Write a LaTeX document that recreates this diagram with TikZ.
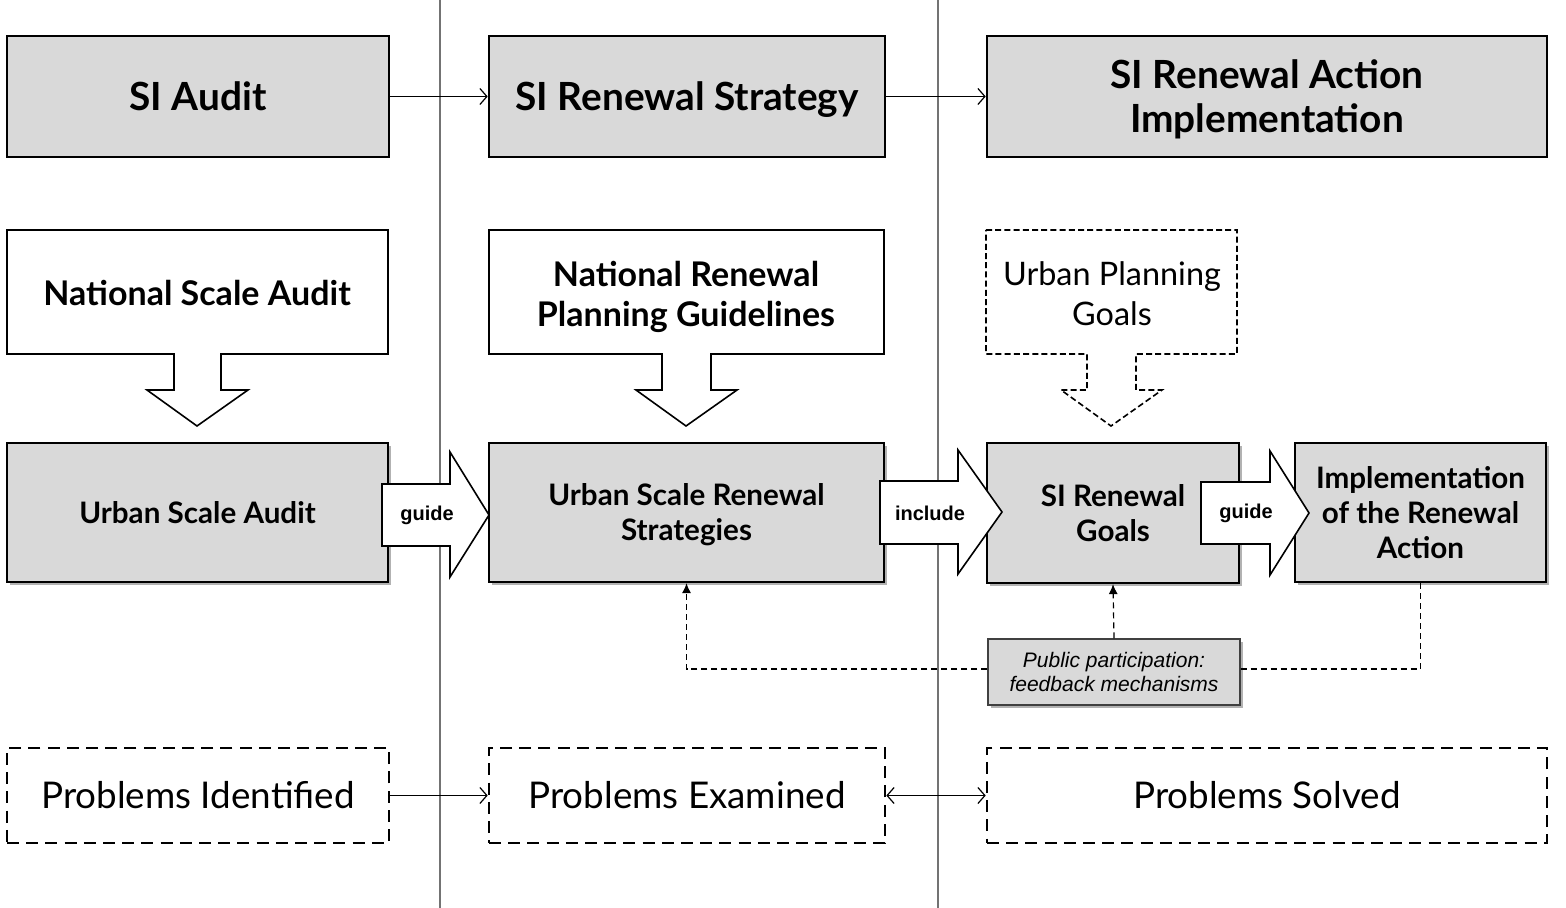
\documentclass[tikz,border=0pt]{standalone}
\usepackage{fontspec}
\setmainfont{Lato}
\newfontfamily\arialf{Liberation Sans}
\usetikzlibrary{arrows.meta,shadows}
\definecolor{boxgray}{HTML}{D9D9D9}
\tikzset{
  topbox/.style={draw, line width=1.3pt, fill=boxgray, inner sep=0pt, align=center,
    font=\fontsize{19.4}{22}\selectfont\bfseries},
  midbox/.style={draw, line width=1.1pt, fill=boxgray, inner sep=0pt, align=center,
    font=\fontsize{14.8}{17.5}\selectfont\bfseries,
    drop shadow={shadow xshift=1.6pt, shadow yshift=-1.6pt, fill=black, opacity=0.3}},
  probbox/.style={draw, line width=1.3pt, dash pattern=on 6pt off 3.6pt, fill=white,
    inner sep=0pt, align=center, font=\fontsize{18.4}{21}\selectfont},
  callout/.style={draw, line width=0.8pt, fill=white},
  callouttext/.style={align=center, inner sep=0pt, font=\fontsize{17}{20}\selectfont\bfseries},
  blockarrow/.style={draw, line width=0.8pt, fill=white},
  arrowtext/.style={inner sep=0pt, font=\arialf\fontsize{10}{11}\selectfont\bfseries},
  ppbox/.style={draw=black!75, line width=0.6pt, fill=boxgray, inner sep=0pt, align=center,
    font=\arialf\fontsize{10.5}{12.2}\selectfont\itshape,
    drop shadow={shadow xshift=1.6pt, shadow yshift=-1.6pt, fill=black, opacity=0.3}},
  conn/.style={line width=0.6pt, -{Straight Barb[length=3.5pt,width=8pt]}},
  fb/.style={line width=0.6pt, dash pattern=on 3pt off 2pt},
  divider/.style={line width=0.7pt, draw=black!55},
  nodepth/.style={text depth=0pt}
}
\begin{document}
\begin{tikzpicture}[x=0.5pt, y=-0.5pt]
\useasboundingbox (0,0) rectangle (1566,908);
\fill[white] (0,0) rectangle (1566,908);
% column dividers
\draw[divider] (440,0) -- (440,908);
\draw[divider] (938,0) -- (938,908);

% top row
\node[topbox, minimum width=191pt, minimum height=60.5pt] (t1) at (198,96.5) {SI Audit};
\node[topbox, nodepth, minimum width=198pt, minimum height=60.5pt] (t2) at (687,96.5) {SI Renewal Strategy};
\node[topbox, nodepth, minimum width=280pt, minimum height=60.5pt] (t3) at (1267,96.5) {SI Renewal Action\\Implementation};
\draw[conn] (t1) -- (t2);
\draw[conn] (t2) -- (t3);

% callouts
\draw[callout] (7,230) -- (388,230) -- (388,354) -- (221,354) -- (221,390) -- (248,390)
  -- (197,426) -- (147,390) -- (174,390) -- (174,354) -- (7,354) -- cycle;
\node[callouttext] (c1) at (197,293) {National Scale Audit};
\draw[callout] (489,230) -- (884,230) -- (884,354) -- (711,354) -- (711,390) -- (737,390)
  -- (686,426) -- (636,390) -- (662,390) -- (662,354) -- (489,354) -- cycle;
\node[callouttext, nodepth] (c2) at (686,294) {National Renewal\\Planning Guidelines};
\draw[callout, dash pattern=on 3pt off 1.6pt] (986,230) -- (1237,230) -- (1237,354) -- (1136,354) -- (1136,390) -- (1162,390)
  -- (1111,426) -- (1061,390) -- (1087,390) -- (1087,354) -- (986,354) -- cycle;
\node[callouttext, font=\fontsize{16.2}{20}\selectfont] (c3) at (1112,294) {Urban Planning\\Goals};

% middle row
\node[midbox, minimum width=190.5pt, minimum height=69.5pt] (m1) at (197.5,512.5) {Urban Scale Audit};
\node[midbox, nodepth, minimum width=197.5pt, minimum height=69.5pt] (m2) at (686.5,512.5) {Urban Scale Renewal\\Strategies};
\node[midbox, minimum width=126pt, minimum height=70pt] (m3) at (1113,513) {SI Renewal\\Goals};
\node[midbox, minimum width=125.5pt, minimum height=69.5pt] (m4) at (1420.5,512.5) {Implementation\\of the Renewal\\Action};

% block arrows
\draw[blockarrow] (382,484) -- (450,484) -- (450,452) -- (489,515) -- (450,577) -- (450,546) -- (382,546) -- cycle;
\node[arrowtext] (a1) at (427,515) {guide};
\draw[blockarrow] (880,481) -- (958,481) -- (958,450) -- (1002,512) -- (958,574) -- (958,544) -- (880,544) -- cycle;
\node[arrowtext] (a2) at (930,513) {include};
\draw[blockarrow] (1201,482) -- (1270,482) -- (1270,451) -- (1309,513) -- (1270,575) -- (1270,544) -- (1201,544) -- cycle;
\node[arrowtext] (a3) at (1246,513) {guide};

% public participation
\node[ppbox, minimum width=126pt, minimum height=33pt] (pp) at (1114,672) {Public participation:\\feedback mechanisms};
\draw[fb, -{Latex[length=5pt,width=4.5pt]}] ([yshift=1.5pt]pp.west) -| (m2.south);
\draw[fb, -{Latex[length=5pt,width=4.5pt]}] (pp.north) -- (m3.south);
\draw[fb] ([yshift=1.5pt]pp.east) -| (m4.south);

% bottom row
\node[probbox, minimum width=191pt, minimum height=47.5pt] (b1) at (198,795.5) {Problems Identified};
\node[probbox, minimum width=198pt, minimum height=47.5pt] (b2) at (687,795.5) {Problems Examined};
\node[probbox, minimum width=280pt, minimum height=47.5pt] (b3) at (1267,795.5) {Problems Solved};
\draw[conn] (b1) -- (b2);
\draw[conn, {Straight Barb[length=3.5pt,width=8pt]}-{Straight Barb[length=3.5pt,width=8pt]}] (b2) -- (b3);
\end{tikzpicture}
\end{document}
